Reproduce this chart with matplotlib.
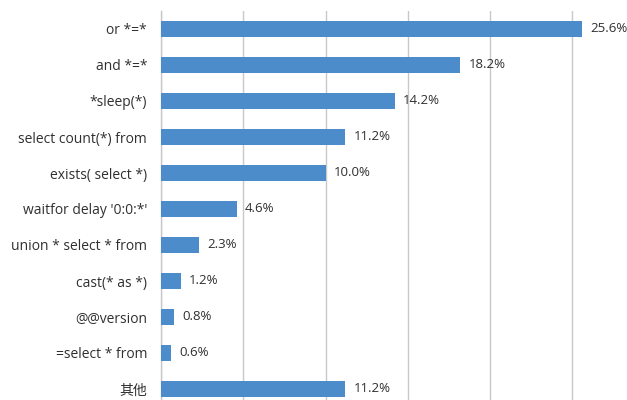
import matplotlib.pyplot as plt
import numpy as np

plt.rcParams['font.family'] = ['Open Sans', 'Noto Sans CJK SC', 'DejaVu Sans']

categories = ['or *=*', 'and *=*', '*sleep(*)', 'select count(*) from', 'exists( select *)',
              "waitfor delay '0:0:*'", 'union * select * from', 'cast(* as *)', '@@version',
              '=select * from', '其他']
values = [25.6, 18.2, 14.2, 11.2, 10.0, 4.6, 2.3, 1.2, 0.8, 0.6, 11.2]
xticks = [0, 5, 10, 15, 20, 25]

fig = plt.figure(figsize=(6.27, 4.0), dpi=100)
ax = fig.add_axes([161/627, -7/400, 466/627, 396/400])

y = np.arange(len(categories))
ax.barh(y, values, height=0.45, color='#4d8cca', zorder=3)
for yi, v in zip(y, values):
    ax.text(v + 0.5, yi, f'{v:.1f}%', va='center', ha='left', fontsize=9.5, color='#303030')

ax.set_yticks(y)
ax.set_yticklabels(categories, fontsize=10, color='#303030')
ax.set_ylim(len(categories) - 0.5, -0.5)
ax.set_xlim(0, 466/16.45)
ax.set_xticks(xticks)
ax.xaxis.grid(True, color='#c8c8c8', linewidth=1, zorder=0)
ax.tick_params(axis='x', bottom=False, labelbottom=False)
ax.tick_params(axis='y', length=0, pad=10)
for s in ['top', 'right', 'bottom']:
    ax.spines[s].set_visible(False)
ax.spines['left'].set_color('#c8c8c8')
ax.spines['left'].set_linewidth(1)

plt.savefig('out.png', dpi=100)
